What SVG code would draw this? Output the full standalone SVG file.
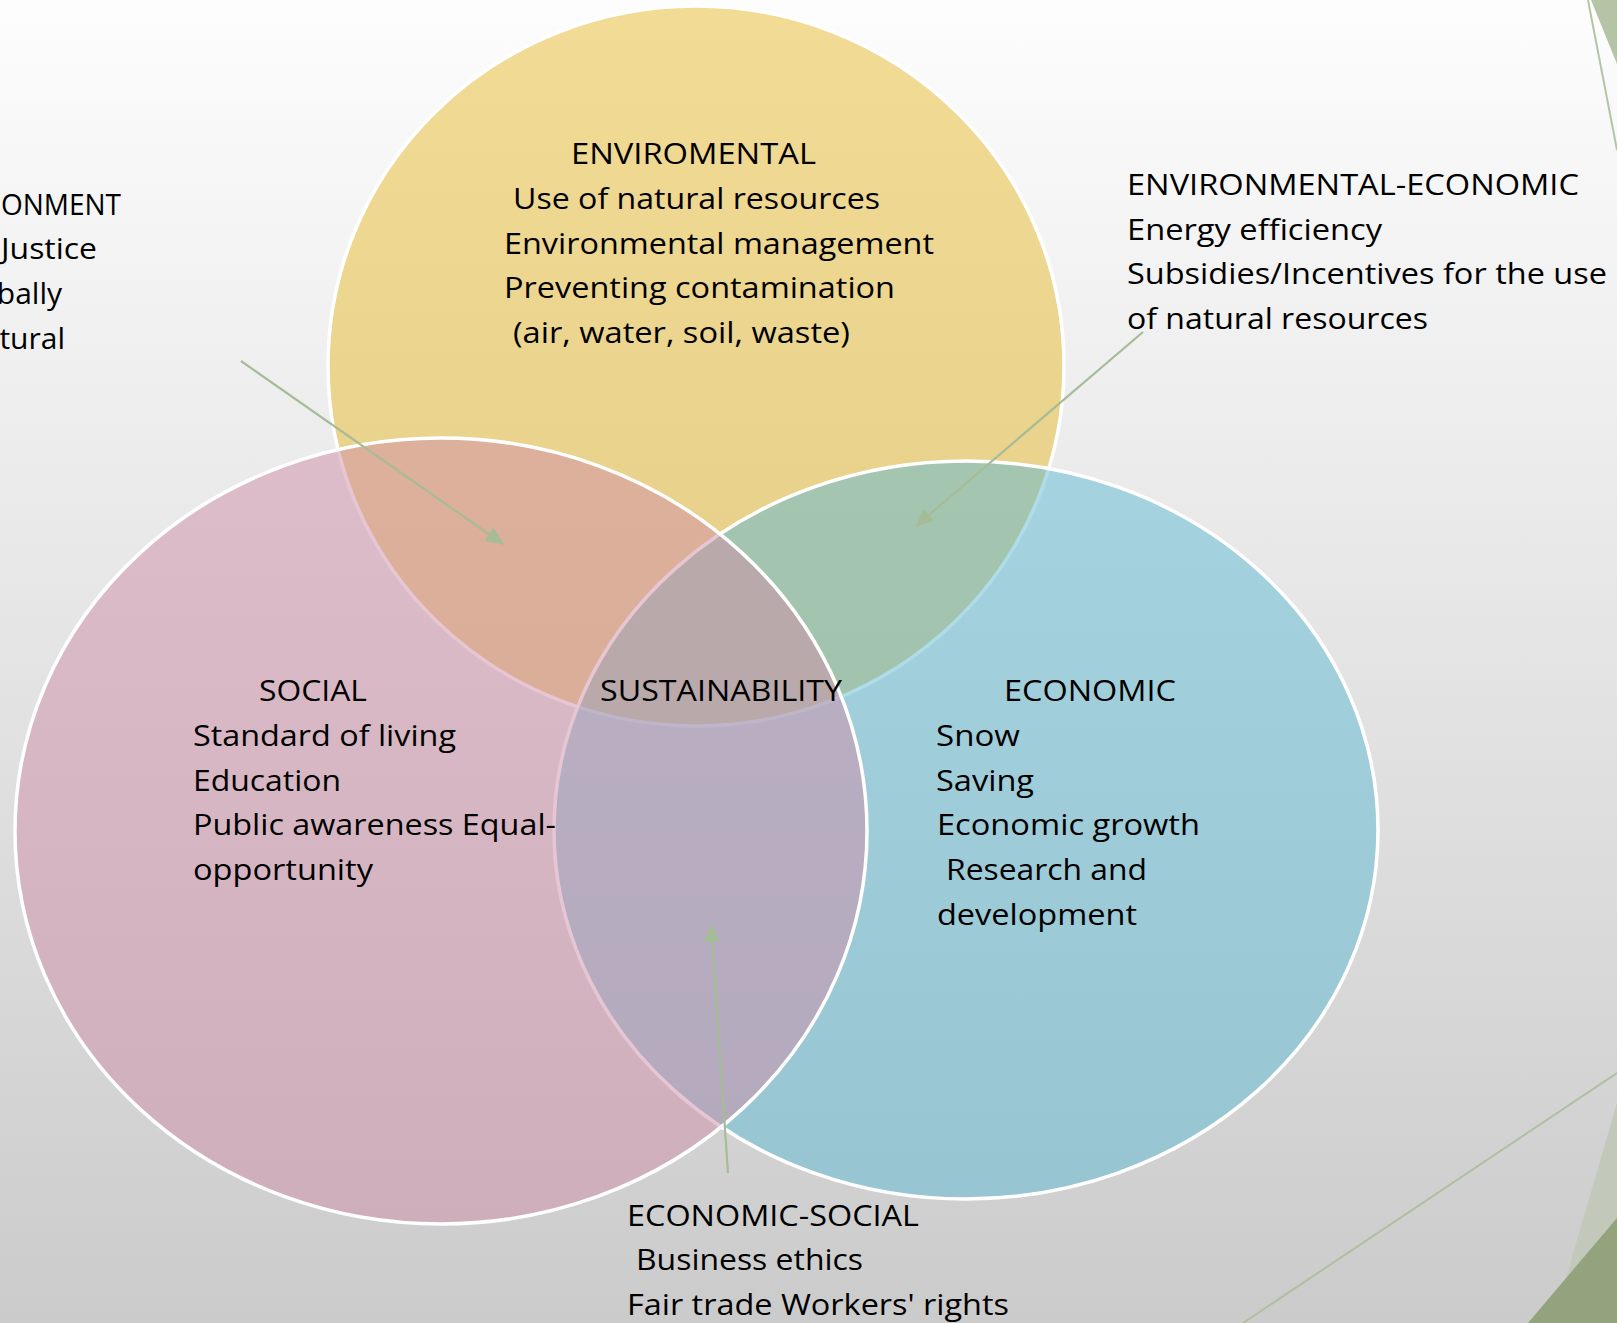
<svg xmlns="http://www.w3.org/2000/svg" width="1617" height="1323" viewBox="0 0 1617 1323">
  <defs>
    <linearGradient id="bg" x1="0" y1="0" x2="0" y2="1">
      <stop offset="0" stop-color="#FDFDFD"/>
      <stop offset="1" stop-color="#CBCBCB"/>
    </linearGradient>
    <marker id="ah" markerUnits="userSpaceOnUse" markerWidth="20" markerHeight="16" refX="17" refY="8" orient="auto" viewBox="0 0 20 16">
      <path d="M0,0 L18,8 L0,16 Z" fill="#A5BC97"/>
    </marker>
    <style>
      .set { fill-opacity: 0.5; stroke: #FFFFFF; stroke-width: 3.5; }
      .t { font-family: "Open Sans", "Liberation Sans", sans-serif; font-size: 30px; fill: #000000; }
      .conn { stroke: #A5BC97; stroke-width: 2.2; fill: none; marker-end: url(#ah); }
    </style>
  </defs>
  <rect x="0" y="0" width="1617" height="1323" fill="url(#bg)"/>

  <!-- decorations on right edge -->
  <polygon points="1591,0 1617,0 1617,64" fill="#B6C4A6"/>
  <line x1="1588" y1="0" x2="1617" y2="150" stroke="#B6C4A6" stroke-width="2"/>
  <polygon points="1617,1103 1617,1323 1553,1323" fill="#C2C8BA"/>
  <polygon points="1617,1218 1617,1323 1528,1323" fill="#93A37E"/>
  <line x1="1243" y1="1323" x2="1617" y2="1073" stroke="#AEBFA0" stroke-width="2"/>

  <g id="environmental">
    <ellipse class="set" cx="696" cy="366" rx="368" ry="360" fill="#E6BA2E"/>
    <text class="t" x="571" y="164" textLength="245" lengthAdjust="spacingAndGlyphs">ENVIROMENTAL</text>
    <text class="t" x="513" y="209" textLength="367" lengthAdjust="spacingAndGlyphs">Use of natural resources</text>
    <text class="t" x="504" y="254" textLength="430" lengthAdjust="spacingAndGlyphs">Environmental management</text>
    <text class="t" x="504" y="298" textLength="391" lengthAdjust="spacingAndGlyphs">Preventing contamination</text>
    <text class="t" x="513" y="343" textLength="337" lengthAdjust="spacingAndGlyphs">(air, water, soil, waste)</text>
  </g>

  <g id="economic">
    <ellipse class="set" cx="966" cy="830" rx="412" ry="369" fill="#5FB9D3"/>
    <text class="t" x="1004" y="701" textLength="172" lengthAdjust="spacingAndGlyphs">ECONOMIC</text>
    <text class="t" x="936" y="746" textLength="84" lengthAdjust="spacingAndGlyphs">Snow</text>
    <text class="t" x="936" y="791" textLength="98" lengthAdjust="spacingAndGlyphs">Saving</text>
    <text class="t" x="937" y="835" textLength="263" lengthAdjust="spacingAndGlyphs">Economic growth</text>
    <text class="t" x="946" y="880" textLength="201" lengthAdjust="spacingAndGlyphs">Research and</text>
    <text class="t" x="937" y="925" textLength="200" lengthAdjust="spacingAndGlyphs">development</text>
  </g>

  <g id="social">
    <ellipse class="set" cx="441" cy="831" rx="426" ry="393" fill="#CF8DA7"/>
    <text class="t" x="259" y="701" textLength="108" lengthAdjust="spacingAndGlyphs">SOCIAL</text>
    <text class="t" x="193" y="746" textLength="263" lengthAdjust="spacingAndGlyphs">Standard of living</text>
    <text class="t" x="193" y="791" textLength="148" lengthAdjust="spacingAndGlyphs">Education</text>
    <text class="t" x="193" y="835" textLength="363" lengthAdjust="spacingAndGlyphs">Public awareness Equal-</text>
    <text class="t" x="193" y="880" textLength="180" lengthAdjust="spacingAndGlyphs">opportunity</text>
  </g>

  <g id="sustainability">
    <text class="t" x="600" y="701" textLength="242" lengthAdjust="spacingAndGlyphs">SUSTAINABILITY</text>
  </g>

  <g id="social-environment">
    <text class="t" x="1" y="215" textLength="120" lengthAdjust="spacingAndGlyphs">ONMENT</text>
    <text class="t" x="1" y="259" textLength="96" lengthAdjust="spacingAndGlyphs">Justice</text>
    <text class="t" x="62" y="304" text-anchor="end">bally</text>
    <text class="t" x="65" y="349" text-anchor="end">tural</text>
  </g>

  <g id="environmental-economic">
    <text class="t" x="1127" y="195" textLength="452" lengthAdjust="spacingAndGlyphs">ENVIRONMENTAL-ECONOMIC</text>
    <text class="t" x="1127" y="240" textLength="255" lengthAdjust="spacingAndGlyphs">Energy efficiency</text>
    <text class="t" x="1127" y="284" textLength="480" lengthAdjust="spacingAndGlyphs">Subsidies/Incentives for the use</text>
    <text class="t" x="1127" y="329" textLength="301" lengthAdjust="spacingAndGlyphs">of natural resources</text>
  </g>

  <g id="economic-social">
    <text class="t" x="627" y="1226" textLength="292" lengthAdjust="spacingAndGlyphs">ECONOMIC-SOCIAL</text>
    <text class="t" x="636" y="1270" textLength="227" lengthAdjust="spacingAndGlyphs">Business ethics</text>
    <text class="t" x="627" y="1315" textLength="382" lengthAdjust="spacingAndGlyphs">Fair trade Workers' rights</text>
  </g>

  <g id="connectors">
    <line class="conn" x1="241" y1="361" x2="503" y2="544"/>
    <line class="conn" x1="1143" y1="332" x2="916" y2="526"/>
    <line class="conn" x1="728" y1="1173" x2="711" y2="925"/>
  </g>
</svg>
